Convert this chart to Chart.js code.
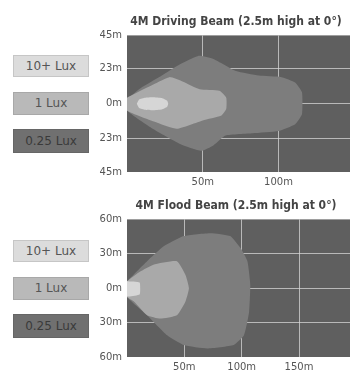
<!DOCTYPE html>
<html>
<head>
<meta charset="utf-8">
<script src="https://cdn.jsdelivr.net/npm/chart.js@4.4.1/dist/chart.umd.min.js"></script>
<style>
  html, body { margin: 0; padding: 0; background: #fff; }
  body { width: 350px; height: 372px; overflow: hidden; position: relative; font-family: "DejaVu Sans", sans-serif; }
  .box { position: absolute; left: 13px; width: 74px; border: 1px solid #bdbdbd; text-align: center; font-size: 12px; color: #555; }
  .chartwrap { position: absolute; left: 95px; width: 282px; }
</style>
</head>
<body>

<div class="box" id="d0" style="top:55px;height:20px;line-height:20px;background:#dcdcdc;border-color:#c6c6c6"></div>
<div class="box" id="d1" style="top:92px;height:21px;line-height:21px;background:#b9b9b9;border-color:#a8a8a8"></div>
<div class="box" id="d2" style="top:129px;height:22px;line-height:22px;background:#707070;border-color:#666;color:#3a3a3a"></div>

<div class="box" id="f0" style="top:240px;height:20px;line-height:20px;background:#dcdcdc;border-color:#c6c6c6"></div>
<div class="box" id="f1" style="top:277px;height:21px;line-height:21px;background:#b9b9b9;border-color:#a8a8a8"></div>
<div class="box" id="f2" style="top:314px;height:22px;line-height:22px;background:#707070;border-color:#666;color:#3a3a3a"></div>

<div class="chartwrap" style="top:12px;height:174px"><canvas id="drive"></canvas></div>
<div class="chartwrap" style="top:196px;height:175px"><canvas id="flood"></canvas></div>

<script>
// legenda a sinistra
const luxLevels = ['10+ Lux', '1 Lux', '0.25 Lux'];

// Driving beam (distanza m, larghezza m)
const driveOuter = [[0, 3], [10, 11], [22, 18], [35, 26], [47, 31.5], [57, 29.5], [72, 21.5], [87, 18.5], [102, 17.5],
  [111, 14], [115.5, 7.5], [115.5, -7], [111, -13.5], [100, -18], [83, -19.5], [65, -21], [57, -27.5], [49, -31],
  [35, -26.5], [17, -16.5], [0, -4.5], [0, 3]];
const driveMid = [[0, 4], [14, 11], [28, 17.5], [37, 14.5], [48, 9.5], [61, 8.5], [65.5, 4], [65.5, -3.5], [62, -8],
  [50, -11], [33, -16.5], [20, -12.5], [0, -4.5], [0, 4]];
const driveInner = [[6.5, 0], [8, 2.8], [12, 4], [17, 4.3], [23, 3.8], [26.5, 2], [27.2, 0], [26.5, -2], [23, -3.8],
  [17, -4.3], [12, -4], [8, -2.8], [6.5, 0]];
const driveXTicks = [50, 100];
const driveYTicks = [45, 23, 0, -23, -45];

// Flood beam
const floodOuter = [[0, 6], [17.5, 23.5], [32, 36.5], [49.5, 45.5], [73, 48], [90, 45.5], [99, 35], [105, 23.5],
  [107.5, 3], [106.5, -20.5], [102, -41], [93, -49.5], [70, -52.5], [49.5, -49.5], [35, -41], [17.5, -23.5],
  [0, -7.5], [0, 6]];
const floodMid = [[0, 6], [11.5, 14.5], [23, 20.5], [43.5, 23.5], [51, 11.5], [54, 0], [51, -11.5], [43.5, -23.5],
  [29, -26.5], [17.5, -23.5], [6, -11.5], [0, -7.5], [0, 6]];
const floodInner = [[0, 6], [11, 5], [11.5, 0], [11, -5.5], [0, -7], [0, 6]];
const floodXTicks = [50, 100, 150];
const floodYTicks = [60, 30, 0, -30, -60];

const zoneColors = ['#d6d6d6', '#a9a9a9', '#7d7d7d'];

document.querySelectorAll('.box').forEach(function (el, i) {
    el.textContent = luxLevels[i % 3];
});

// sfondo scuro dell'area del grafico
const plotBg = {
    id: 'plotBg',
    beforeDraw(chart) {
        const a = chart.chartArea;
        chart.ctx.save();
        chart.ctx.fillStyle = '#5f5f5f';
        chart.ctx.fillRect(a.left, a.top, a.right - a.left, a.bottom - a.top);
        chart.ctx.restore();
    }
};

function toPts(arr) {
    return arr.map(p => ({ x: p[0], y: p[1] }));
}

function zone(arr, i) {
    return {
        data: toPts(arr),
        fill: 'shape',
        backgroundColor: zoneColors[i],
        borderWidth: 0,
        borderColor: 'transparent',
        pointRadius: 0,
        tension: 0.15,
        order: i
    };
}

function makeChart(id, title, zones, xTicks, yTicks, xMax, yMax) {
    const gridCol = ctx => (Math.abs(ctx.tick.value) === yMax) ? 'transparent' : 'rgba(215,215,215,0.75)';
    return new Chart(document.getElementById(id), {
        type: 'line',
        data: { datasets: zones.map((z, i) => zone(z, i)) },
        options: {
            responsive: true,
            maintainAspectRatio: false,
            animation: false,
            layout: { padding: 0 },
            plugins: {
                legend: { display: false },
                tooltip: { enabled: false },
                title: {
                    display: true,
                    text: title,
                    color: '#444',
                    font: { family: 'DejaVu Sans Condensed', size: 12, weight: 'bold' },
                    padding: { top: 3, bottom: 6 }
                }
            },
            scales: {
                x: {
                    type: 'linear',
                    min: 0,
                    max: xMax,
                    z: 1,
                    border: { display: false },
                    grid: { color: 'rgba(215,215,215,0.75)', lineWidth: 1, drawTicks: false },
                    afterBuildTicks: s => { s.ticks = xTicks.map(v => ({ value: v })); },
                    afterFit: s => { s.height = 14; },
                    ticks: {
                        padding: 4,
                        color: '#555',
                        font: { family: 'DejaVu Sans', size: 10 },
                        callback: v => v + 'm'
                    }
                },
                y: {
                    type: 'linear',
                    min: -yMax,
                    max: yMax,
                    z: 1,
                    border: { display: false },
                    grid: { color: gridCol, lineWidth: 1, drawTicks: false },
                    afterBuildTicks: s => { s.ticks = yTicks.map(v => ({ value: v })); },
                    afterFit: s => { s.width = 32; },
                    ticks: {
                        padding: 5,
                        color: '#555',
                        font: { family: 'DejaVu Sans', size: 10 },
                        callback: v => Math.abs(v) + 'm'
                    }
                }
            }
        },
        plugins: [plotBg]
    });
}

makeChart('drive', '4M Driving Beam (2.5m high at 0°)', [driveInner, driveMid, driveOuter], driveXTicks, driveYTicks, 165, 45);
makeChart('flood', '4M Flood Beam (2.5m high at 0°)', [floodInner, floodMid, floodOuter], floodXTicks, floodYTicks, 218, 60);
</script>
</body>
</html>
